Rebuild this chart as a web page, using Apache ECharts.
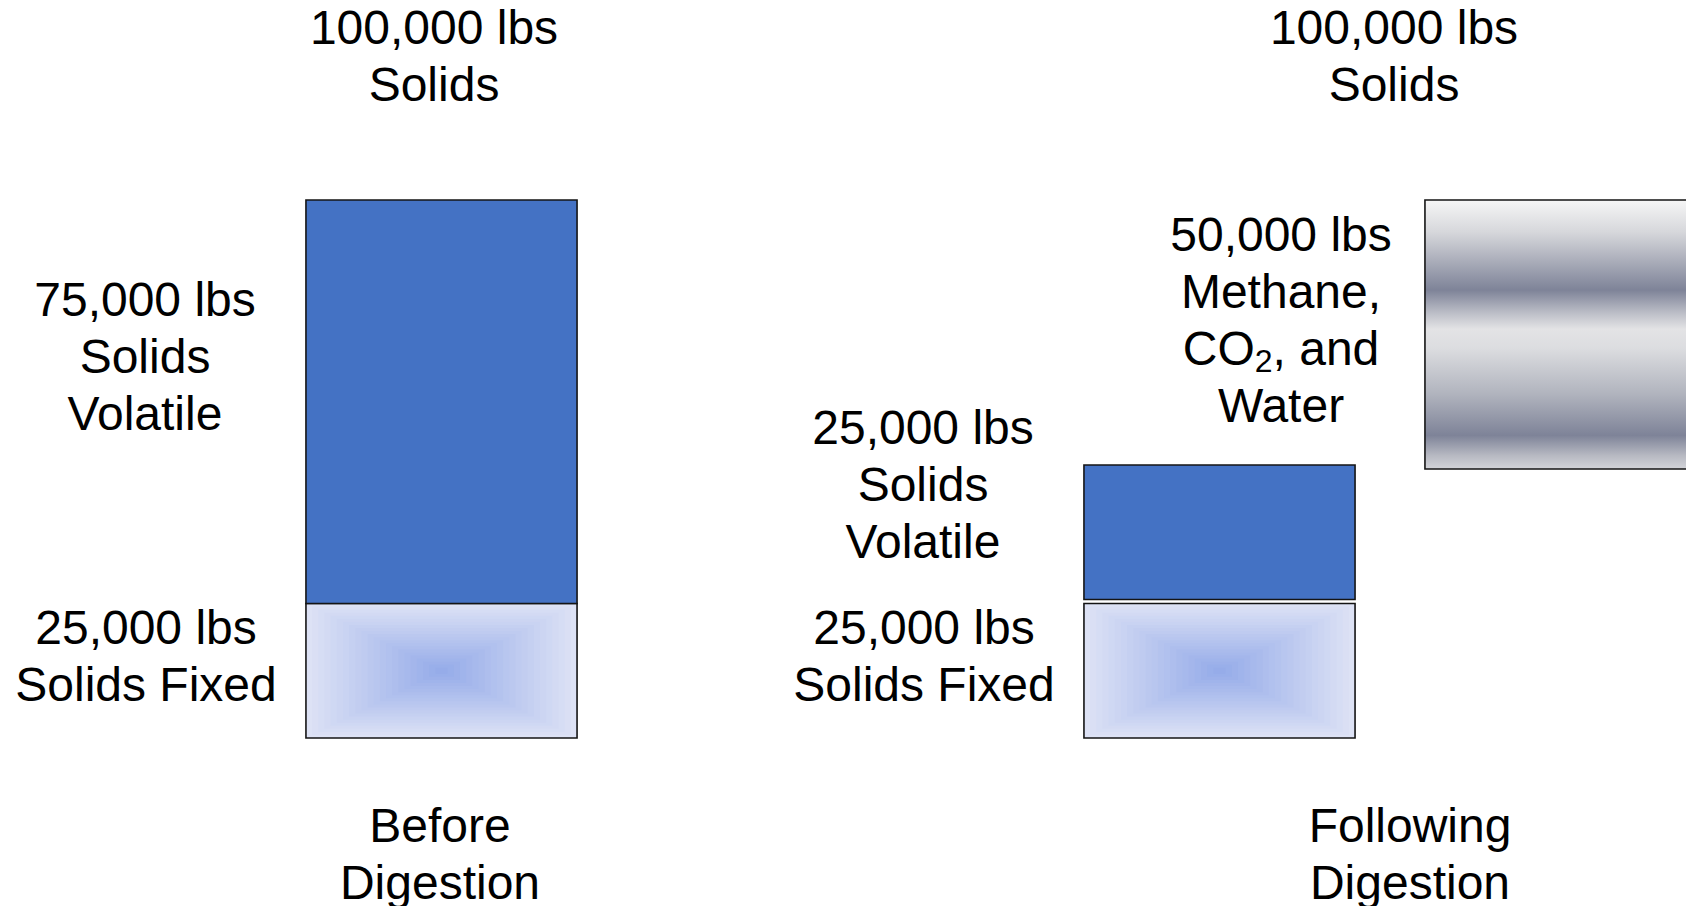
<!DOCTYPE html>
<html>
<head>
<meta charset="utf-8">
<title>Solids Before and Following Digestion</title>
<script src="https://cdn.jsdelivr.net/npm/echarts@6/dist/echarts.min.js"></script>
<style>
  html, body { margin: 0; padding: 0; background: #ffffff; }
  #chart { width: 1686px; height: 906px; }
</style>
</head>
<body>
<div id="chart"></div>
<script>
// Mass balance of solids (lbs) before and after digestion
const stages = ['Before Digestion', 'Following Digestion'];
const totalSolids = [100000, 100000];
const fixedSolids = [25000, 25000];
const volatileSolids = [75000, 25000];
const gasReleased = [0, 50000];          // methane, CO2 and water driven off
const afterColumns = ['Solids', 'Gas'];

const FONT_FAMILY = '"Liberation Sans", Arial, Helvetica, sans-serif';
const FONT_SIZE = 48;
const LINE_H = 57;
const BAR_RATIO = 0.795;
const fmt = v => v.toLocaleString('en-US') + ' lbs';

// ---- mark drawing helpers ----
function barRect(api, lift) {
  const cat = api.value(0);
  const lo = api.coord([cat, api.value(1)]);
  const hi = api.coord([cat, api.value(2)]);
  const bw = api.size([1, 0])[0] * BAR_RATIO;
  return { x: lo[0] - bw / 2, y: hi[1] - lift, width: bw, height: lo[1] - hi[1] };
}

const EDGE = [221, 226, 245];
const CENTER = [150, 172, 233];
function mix(a, b, t) {
  const c = a.map((v, i) => Math.round(v + (b[i] - v) * t));
  return 'rgb(' + c.join(',') + ')';
}
const OUTLINE = { fill: 'none', stroke: '#141414', lineWidth: 1.6 };

// fixed solids: box-shaped gradient, pale at the edges, deeper blue in the middle
function renderFixed(params, api) {
  const r = barRect(api, 0);
  const steps = 22;
  const children = [];
  for (let i = 0; i < steps; i++) {
    const k = 1 - i / steps;
    const w = r.width * k, h = r.height * k;
    children.push({
      type: 'rect',
      shape: { x: r.x + (r.width - w) / 2, y: r.y + (r.height - h) / 2, width: w, height: h },
      style: { fill: mix(EDGE, CENTER, i / (steps - 1)) }
    });
  }
  children.push({ type: 'rect', shape: r, style: OUTLINE });
  return { type: 'group', children };
}

function makeVolatileRenderer(lift) {
  return function (params, api) {
    const r = barRect(api, lift);
    return { type: 'rect', shape: r, style: Object.assign({}, OUTLINE, { fill: '#4472C4' }) };
  };
}

const CHROME = {
  type: 'linear', x: 0, y: 0, x2: 0, y2: 1,
  colorStops: [
    { offset: 0.00, color: '#f6f6f6' },
    { offset: 0.12, color: '#d6d7db' },
    { offset: 0.335, color: '#7e8398' },
    { offset: 0.42, color: '#bcbec7' },
    { offset: 0.48, color: '#e3e3e5' },
    { offset: 0.55, color: '#dcdde0' },
    { offset: 0.72, color: '#b1b4be' },
    { offset: 0.875, color: '#7e8398' },
    { offset: 0.95, color: '#b7b9c2' },
    { offset: 1.00, color: '#d3d4d9' }
  ]
};
function renderGas(params, api) {
  const r = barRect(api, 0);
  return { type: 'rect', shape: r, style: Object.assign({}, OUTLINE, { fill: CHROME }) };
}

// ---- data rows: [column, from, to] ----
const beforeFixed = [[0, 0, fixedSolids[0]]];
const beforeVolatile = [[0, fixedSolids[0], fixedSolids[0] + volatileSolids[0]]];
const afterFixed = [[0, 0, fixedSolids[1]]];
const afterVolatile = [[0, fixedSolids[1], fixedSolids[1] + volatileSolids[1]]];
const afterGasBase = fixedSolids[1] + volatileSolids[1];
const afterGas = [[1, afterGasBase, afterGasBase + gasReleased[1]]];

// ---- text ----
function label(text, x, y, extra) {
  return {
    type: 'text', x: x, y: y, silent: true,
    style: Object.assign({
      text: text,
      fontSize: FONT_SIZE, fontFamily: FONT_FAMILY, fill: '#000000',
      align: 'center', verticalAlign: 'middle',
      textAlign: 'center', textVerticalAlign: 'middle',
      lineHeight: LINE_H
    }, extra || {})
  };
}

const gasText = fmt(gasReleased[1]) + '\nMethane,\n{r|CO}{s|2}{r|, and}\nWater';
const gasRich = {
  r: { fontSize: FONT_SIZE, fontFamily: FONT_FAMILY, fill: '#000', lineHeight: LINE_H },
  s: { fontSize: 32, fontFamily: FONT_FAMILY, fill: '#000', lineHeight: 27, verticalAlign: 'bottom' }
};

const graphics = [
  label(fmt(totalSolids[0]) + '\nSolids', 434, 56),
  label(fmt(totalSolids[1]) + '\nSolids', 1394, 56),
  label(fmt(volatileSolids[0]) + '\nSolids\nVolatile', 145, 356),
  label(fmt(fixedSolids[0]) + '\nSolids Fixed', 146, 656),
  label(fmt(volatileSolids[1]) + '\nSolids\nVolatile', 923, 484),
  label(fmt(fixedSolids[1]) + '\nSolids Fixed', 924, 656),
  label(gasText, 1281, 320, { rich: gasRich }),
  label(stages[0].replace(' ', '\n'), 440, 854),
  label(stages[1].replace(' ', '\n'), 1410, 854)
];

const chart = echarts.init(document.getElementById('chart'), null, { renderer: 'svg' });
chart.setOption({
  animation: false,
  backgroundColor: '#ffffff',
  grid: [
    { left: 271, width: 341, top: 200, height: 538, outerBoundsMode: 'none' },
    { left: 1049, width: 682, top: 200, height: 538, outerBoundsMode: 'none' }
  ],
  xAxis: [
    { type: 'category', gridIndex: 0, data: [stages[0]], show: false },
    { type: 'category', gridIndex: 1, data: afterColumns, show: false }
  ],
  yAxis: [
    { type: 'value', gridIndex: 0, min: 0, max: 100000, show: false },
    { type: 'value', gridIndex: 1, min: 0, max: 100000, show: false }
  ],
  series: [
    { type: 'custom', name: 'Solids Fixed', xAxisIndex: 0, yAxisIndex: 0, data: beforeFixed, renderItem: renderFixed },
    { type: 'custom', name: 'Solids Volatile', xAxisIndex: 0, yAxisIndex: 0, data: beforeVolatile, renderItem: makeVolatileRenderer(0) },
    { type: 'custom', name: 'Solids Fixed', xAxisIndex: 1, yAxisIndex: 1, data: afterFixed, renderItem: renderFixed },
    { type: 'custom', name: 'Solids Volatile', xAxisIndex: 1, yAxisIndex: 1, data: afterVolatile, renderItem: makeVolatileRenderer(4) },
    { type: 'custom', name: 'Methane, CO2, and Water', xAxisIndex: 1, yAxisIndex: 1, data: afterGas, renderItem: renderGas }
  ],
  graphic: graphics
});
</script>
</body>
</html>
